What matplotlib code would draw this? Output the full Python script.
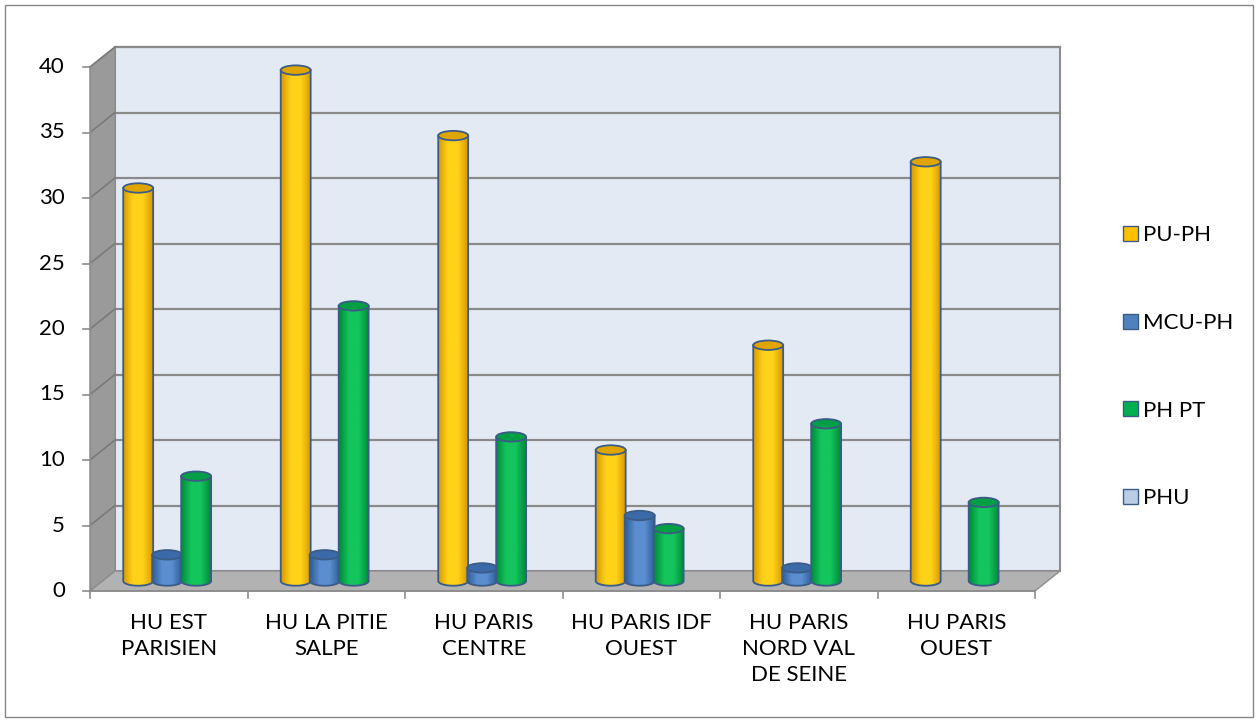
import numpy as np
import matplotlib.pyplot as plt
from matplotlib.patches import Polygon, Ellipse, Rectangle, Patch
from matplotlib.colors import LinearSegmentedColormap

plt.rcParams["font.family"] = ["Lato", "DejaVu Sans"]

categories = ["HU EST\nPARISIEN", "HU LA PITIE\nSALPE", "HU PARIS\nCENTRE",
              "HU PARIS IDF\nOUEST", "HU PARIS\nNORD VAL\nDE SEINE", "HU PARIS\nOUEST"]
series_names = ["PU-PH", "MCU-PH", "PH PT", "PHU"]
pu_ph = [30, 39, 34, 10, 18, 32]
mcu_ph = [2, 2, 1, 5, 1, 0]
ph_pt = [8, 21, 11, 4, 12, 6]
phu = [0, 0, 0, 0, 0, 0]
y_ticks = [0, 5, 10, 15, 20, 25, 30, 35, 40]

# colours: (edge-dark, highlight, top)
STYLES = [
    ("#D99A00", "#FFD21A", "#E0A500"),
    ("#2F5E98", "#5B8ED0", "#3A6AA8"),
    ("#008A3A", "#14C45C", "#009E45"),
    ("#95AED0", "#C8D8EC", "#A9C0DE"),
]
LEGEND_COLORS = ["#FFC000", "#4F81BD", "#00B050", "#B9CDE5"]
OUTLINE = "#3B5C86"
FS = 16

W, H = 1258, 722
fig = plt.figure(figsize=(W / 100, H / 100), dpi=100)
ax = fig.add_axes([90 / W, 131 / H, 945 / W, 524 / H])
ax.set_xlim(0, 6)
ax.set_ylim(0, 40)
ax.axis("off")

# depth offset of the 3D box (in data units)
DX = 25 / 157.5
DY = 20 / 13.1
n = len(categories)

# back wall
ax.add_patch(Polygon([(DX, DY), (n + DX, DY), (n + DX, 40 + DY), (DX, 40 + DY)],
                     closed=True, fc="#E4EAF4", ec="#8C8C8C", lw=1.5, zorder=1, clip_on=False))
# side wall
ax.add_patch(Polygon([(0, 0), (DX, DY), (DX, 40 + DY), (0, 40)],
                     closed=True, fc="#9A9A9A", ec="#8C8C8C", lw=1, zorder=1, clip_on=False))
# floor
ax.add_patch(Polygon([(0, 0), (n, 0), (n + DX, DY), (DX, DY)],
                     closed=True, fc="#B2B2B2", ec="#8C8C8C", lw=1, zorder=1, clip_on=False))

for v in y_ticks[1:]:
    ax.plot([DX, n + DX], [v + DY, v + DY], color="#8A8A8A", lw=1.6, zorder=2, clip_on=False)
    ax.plot([0, DX], [v, v + DY], color="#7A7A7A", lw=1.2, zorder=2, clip_on=False)

# axes lines and ticks
ax.plot([0, n], [0, 0], color="#8C8C8C", lw=1.2, zorder=2, clip_on=False)
ax.plot([0, 0], [0, 40], color="#8C8C8C", lw=1.0, zorder=2, clip_on=False)
for v in y_ticks:
    ax.plot([-0.045, 0], [v, v], color="#8C8C8C", lw=1.2, zorder=2, clip_on=False)
    ax.text(-0.16, v, str(v), ha="right", va="center", fontsize=FS, color="#000000")
for k in range(n + 1):
    ax.plot([k, k], [0, -0.55], color="#8C8C8C", lw=1.2, zorder=2, clip_on=False)
for k, lab in enumerate(categories):
    ax.text(k + 0.5, -1.7, lab, ha="center", va="top", fontsize=FS,
            linespacing=1.36, color="#000000")

# cylinders
all_series = [pu_ph, mcu_ph, ph_pt, phu]
bw = 0.19
step = 0.184
eb = 0.36   # ellipse half-height (data units)
base = DY / 2
ts = np.linspace(0, np.pi, 40)
z = 3
for k in range(n):
    center = k + 0.5 - 0.01
    for i, vals in enumerate(all_series[:3]):
        v = vals[k]
        if v <= 0:
            continue
        dark, light, topc = STYLES[i]
        c = center + (i - 1) * step
        top = v + base
        x0, x1 = c - bw / 2, c + bw / 2
        arc = [(c - (bw / 2) * np.cos(t), base - eb * np.sin(t)) for t in ts]
        body = Polygon([(x0, top)] + arc + [(x1, top)], closed=True,
                       fc="none", ec=OUTLINE, lw=1.3, zorder=z + 1, clip_on=False)
        ax.add_patch(body)
        cmap = LinearSegmentedColormap.from_list(
            "cyl", [dark, light, light, dark], N=128)
        grad = np.linspace(0, 1, 64).reshape(1, -1)
        im = ax.imshow(grad, cmap=cmap, extent=(x0, x1, base - eb, top),
                       aspect="auto", zorder=z, interpolation="bilinear")
        im.set_clip_path(body)
        ax.add_patch(Ellipse((c, top), bw, 2 * eb, fc=topc, ec=OUTLINE,
                             lw=1.3, zorder=z + 2, clip_on=False))
        z += 3

ax.set_xlim(0, 6)
ax.set_ylim(0, 40)

handles = [Patch(fc=LEGEND_COLORS[i], ec=OUTLINE, lw=1) for i in range(4)]
fig.legend(handles, series_names, loc="upper left", bbox_to_anchor=(1112 / W, 1 - 214 / H),
           frameon=False, fontsize=FS, handlelength=0.65, handleheight=0.65,
           handletextpad=0.25, labelspacing=3.05, borderpad=0)

fig.add_artist(Rectangle((5 / W, 5 / H), 1 - 10 / W, 1 - 10 / H, transform=fig.transFigure,
                         fill=False, ec="#868686", lw=1))

fig.savefig("out.png", dpi=100)
